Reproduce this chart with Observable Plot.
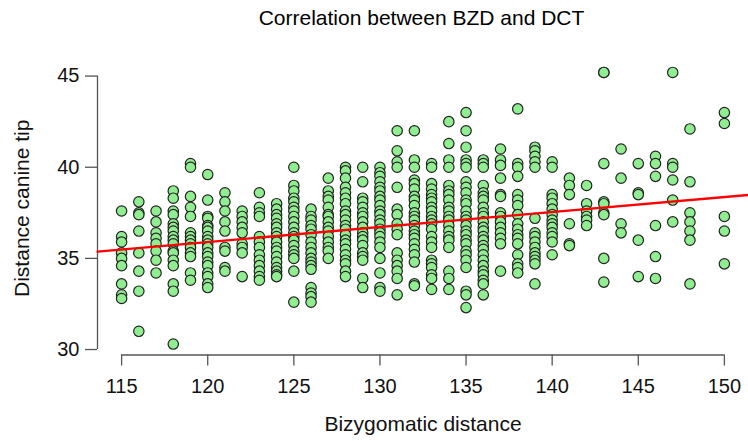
<!DOCTYPE html>
<html>
<head>
<meta charset="utf-8">
<script src="https://cdn.jsdelivr.net/npm/d3@7"></script>
<script src="https://cdn.jsdelivr.net/npm/@observablehq/plot@0.6"></script>
<style>
  html, body { margin: 0; padding: 0; background: #fff; }
  body { font-family: "Liberation Sans", Arial, Helvetica, sans-serif; width: 748px; height: 441px; overflow: hidden; }
  #title { position: relative; height: 40px; }
  #title span { position: absolute; left: 95px; right: 0; top: 6px; text-align: center; font-size: 21px; line-height: 24px; color: #000; }
</style>
</head>
<body>
<div id="title"><span id="titleText"></span></div>
<div id="chart"></div>
<script>
// ---- data ----
const chartTitle = "Correlation between BZD and DCT";
const xLabel = "Bizygomatic distance";
const yLabel = "Distance canine tip";

// Bizygomatic distance (x) columns
const bzd = [115,116,117,118,119,120,121,122,123,124,125,126,127,128,129,130,131,132,133,134,135,136,137,138,139,140,141,142,143,144,145,146,147,148,150];

// Distance canine tip (y) values for each column
const dct115 = [37.6, 36.2, 35.9, 35.3, 35.0, 34.6, 33.6, 33.0, 32.8];
const dct116 = [38.1, 37.5, 37.4, 36.5, 35.3, 34.3, 33.2, 31.0];
const dct117 = [37.6, 37.0, 36.4, 36.1, 35.8, 35.4, 34.9, 34.2];
const dct118 = [38.7, 38.3, 37.6, 37.4, 36.9, 36.7, 36.5, 36.2, 36.0, 35.8, 35.4, 35.3, 34.9, 34.6, 33.6, 33.2, 30.3];
const dct119 = [40.2, 40.0, 38.4, 37.8, 37.3, 36.4, 36.2, 36.0, 35.8, 35.6, 35.3, 35.1, 34.2, 33.8];
const dct120 = [39.6, 38.2, 37.3, 37.2, 36.8, 36.7, 36.5, 36.2, 36.0, 35.8, 35.6, 35.3, 35.1, 34.8, 34.6, 34.2, 34.0, 33.6, 33.4];
const dct121 = [38.6, 38.1, 37.6, 37.0, 36.5, 35.6, 35.4, 34.5, 34.3];
const dct122 = [37.6, 37.3, 37.0, 36.7, 36.4, 35.8, 35.6, 35.3, 34.0];
const dct123 = [38.6, 37.8, 37.5, 37.3, 36.2, 35.9, 35.6, 35.2, 34.9, 34.6, 34.3, 34.0, 33.8];
const dct124 = [38.0, 37.7, 37.4, 37.2, 36.9, 36.7, 36.4, 36.2, 35.9, 35.6, 35.4, 35.1, 34.8, 34.5, 34.3, 34.1, 34.0];
const dct125 = [40.0, 39.0, 38.7, 38.3, 38.1, 37.8, 37.6, 37.3, 37.0, 36.7, 36.4, 36.2, 36.0, 35.7, 35.4, 35.2, 35.0, 34.3, 32.6];
const dct126 = [37.7, 37.3, 37.1, 36.8, 36.6, 36.3, 35.9, 35.6, 35.3, 35.0, 34.8, 34.6, 34.4, 33.4, 33.1, 32.9, 32.6];
const dct127 = [39.4, 38.7, 38.4, 38.2, 37.8, 37.4, 37.3, 37.0, 36.7, 36.5, 36.2, 35.9, 35.6, 35.4, 35.0];
const dct128 = [40.0, 39.8, 39.4, 38.9, 38.6, 38.3, 38.0, 37.6, 37.4, 37.1, 36.8, 36.6, 36.3, 36.0, 35.8, 35.5, 35.2, 34.9, 34.7, 34.3, 34.0];
const dct129 = [40.0, 39.2, 38.3, 38.1, 37.8, 37.5, 37.3, 37.0, 36.7, 36.4, 36.2, 36.0, 35.7, 35.3, 35.1, 34.9, 33.9, 33.4];
const dct130 = [40.0, 39.7, 39.5, 39.2, 38.9, 38.7, 38.4, 38.2, 37.9, 37.6, 37.4, 37.1, 36.9, 36.6, 36.4, 36.2, 35.9, 35.6, 35.0, 34.2, 33.4, 33.2];
const dct131 = [42.0, 40.9, 40.3, 40.0, 38.9, 37.7, 37.4, 36.9, 36.6, 36.3, 35.3, 34.9, 34.6, 34.3, 33.9, 33.0];
const dct132 = [42.0, 40.4, 40.0, 39.3, 39.1, 38.8, 38.4, 38.2, 37.9, 37.5, 37.3, 37.1, 36.8, 36.5, 36.3, 36.1, 35.8, 35.5, 35.2, 34.8, 33.6, 33.5];
const dct133 = [40.2, 40.0, 39.1, 38.8, 38.5, 38.3, 38.1, 37.8, 37.6, 37.3, 37.1, 36.9, 36.6, 36.2, 35.9, 35.6, 34.9, 34.7, 34.5, 34.1, 33.9, 33.3];
const dct134 = [42.5, 41.3, 40.4, 40.0, 39.0, 38.7, 38.5, 38.2, 37.8, 37.6, 37.3, 37.1, 36.8, 36.5, 36.2, 36.0, 35.6, 34.3, 33.9, 33.3];
const dct135 = [43.0, 42.0, 41.1, 40.4, 40.2, 40.0, 39.2, 38.9, 38.6, 38.2, 38.0, 37.6, 37.3, 37.1, 36.8, 36.5, 36.3, 36.0, 35.8, 35.4, 35.2, 34.9, 34.5, 33.2, 33.0, 32.3];
const dct136 = [40.4, 40.2, 40.0, 39.0, 38.6, 38.4, 38.2, 37.8, 37.5, 37.3, 37.0, 36.7, 36.5, 36.2, 36.0, 35.7, 35.5, 35.2, 34.9, 34.6, 34.3, 34.1, 33.8, 33.6, 33.0];
const dct137 = [41.0, 40.4, 40.1, 39.4, 38.5, 38.4, 37.5, 37.3, 37.0, 36.7, 36.4, 36.1, 35.8, 34.3];
const dct138 = [43.2, 40.2, 40.0, 39.5, 38.5, 38.2, 37.9, 37.4, 36.9, 36.6, 36.3, 36.1, 35.8, 35.2, 34.7, 34.5, 34.2];
const dct139 = [41.1, 40.9, 40.6, 40.3, 40.0, 37.2, 36.4, 36.2, 35.9, 35.6, 35.3, 35.1, 34.9, 34.7, 33.6];
const dct140 = [40.3, 40.0, 38.5, 38.3, 38.0, 37.7, 37.4, 37.1, 36.9, 36.7, 36.4, 36.2, 35.9, 35.2];
const dct141 = [39.4, 39.0, 38.5, 36.9, 35.8, 35.7];
const dct142 = [39.0, 38.0, 37.6, 37.3, 37.1, 36.8];
const dct143 = [45.2, 45.2, 40.2, 38.1, 38.0, 37.5, 37.4, 35.0, 33.7];
const dct144 = [41.0, 39.4, 36.9, 36.4];
const dct145 = [40.2, 38.6, 38.5, 36.0, 34.0];
const dct146 = [40.6, 40.2, 39.5, 36.8, 35.1, 33.9];
const dct147 = [45.2, 40.2, 40.0, 39.3, 38.2, 37.0];
const dct148 = [42.1, 39.2, 37.5, 37.0, 36.5, 36.0, 33.6];
const dct150 = [43.0, 42.4, 37.3, 36.5, 34.7];

const dctColumns = [dct115, dct116, dct117, dct118, dct119, dct120, dct121, dct122, dct123, dct124,
  dct125, dct126, dct127, dct128, dct129, dct130, dct131, dct132, dct133, dct134, dct135, dct136,
  dct137, dct138, dct139, dct140, dct141, dct142, dct143, dct144, dct145, dct146, dct147, dct148, dct150];

// tick labels
const xTicks = [115, 120, 125, 130, 135, 140, 145, 150];
const yTicks = [30, 35, 40, 45];

// fitted regression line
const fitIntercept = 26.02;
const fitSlope = 0.0823;

// ---- build table ----
const points = bzd.flatMap((x, i) => dctColumns[i].map(y => ({x, y})));
const xDomain = [113.6, 151.4];
const yDomain = [29.7, 45.8];
const fitLine = xDomain.map(x => ({x, y: fitIntercept + fitSlope * x}));
const xAxisLine = [{y: yDomain[0], x1: d3.min(xTicks), x2: d3.max(xTicks)}];
const yAxisLine = [{x: xDomain[0], y1: d3.min(yTicks), y2: d3.max(yTicks)}];

document.getElementById("titleText").textContent = chartTitle;

const chart = Plot.plot({
  width: 748,
  height: 401,
  marginLeft: 97,
  marginRight: 0,
  marginTop: 21,
  marginBottom: 86.5,
  style: {fontFamily: "Liberation Sans, Arial, Helvetica, sans-serif", fontSize: "20px", background: "#fff", color: "#111", overflow: "visible"},
  x: {domain: xDomain},
  y: {domain: yDomain},
  marks: [
    Plot.ruleY(xAxisLine, {y: "y", x1: "x1", x2: "x2", stroke: "#555", strokeWidth: 1.3}),
    Plot.ruleX(yAxisLine, {x: "x", y1: "y1", y2: "y2", stroke: "#555", strokeWidth: 1.3}),
    Plot.axisX(xTicks, {anchor: "bottom", tickSize: 11, tickPadding: 13, stroke: "#555", fill: "#111", fontSize: 20, label: null, strokeWidth: 1.3}),
    Plot.axisY(yTicks, {anchor: "left", tickSize: 12, tickPadding: 6, stroke: "#555", fill: "#111", fontSize: 20, label: null, strokeWidth: 1.3}),
    Plot.text([xLabel], {frameAnchor: "bottom", dy: 76, fontSize: 21, fill: "#111", textAnchor: "middle"}),
    Plot.text([yLabel], {frameAnchor: "left", dx: -75, rotate: -90, fontSize: 21, fill: "#111", textAnchor: "middle"}),
    Plot.dot(points, {x: "x", y: "y", r: 5.2, fill: "#90EE90", stroke: "#222", strokeWidth: 1.2}),
    Plot.line(fitLine, {x: "x", y: "y", stroke: "#ff0000", strokeWidth: 2.3})
  ]
});
document.getElementById("chart").appendChild(chart);
</script>
</body>
</html>
